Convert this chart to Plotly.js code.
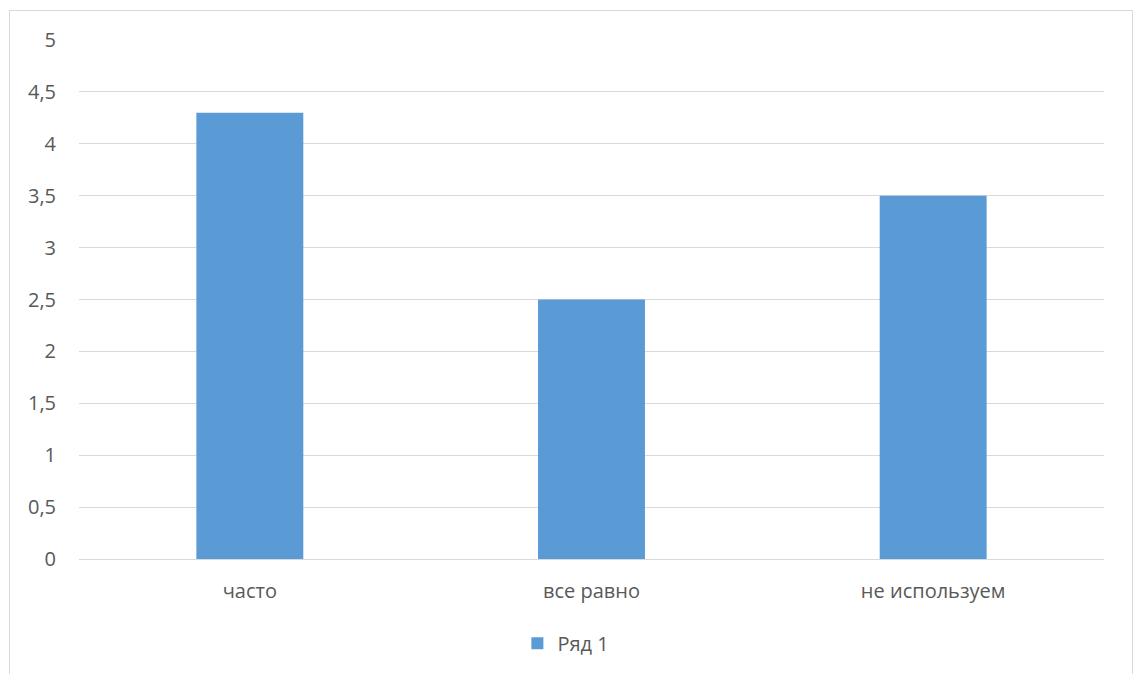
<!DOCTYPE html>
<html>
<head>
<meta charset="utf-8">
<script src="https://cdn.plot.ly/plotly-3.0.1.min.js"></script>
<style>
  html, body { margin: 0; padding: 0; background: #fff; }
  #chart { width: 1134px; height: 674px; position: absolute; left: 0; top: 0; }
  #frame { position: absolute; left: 9px; top: 10px; width: 1122px; height: 700px;
           border: 1px solid #d9d9d9; pointer-events: none; }
</style>
</head>
<body>
<div id="chart"></div>
<div id="frame"></div>
<script>
const categories = ["часто", "все равно", "не используем"];
const values = [4.3, 2.5, 3.5];
const seriesName = "Ряд 1";
const yTicks = [0, 0.5, 1, 1.5, 2, 2.5, 3, 3.5, 4, 4.5, 5];

const font = { family: "Open Sans, Liberation Sans, sans-serif", size: 20, color: "#595959" };

Plotly.newPlot("chart", [{
  type: "bar",
  x: categories,
  y: values,
  name: seriesName,
  marker: { color: "#5b9bd5" },
  showlegend: true,
  hoverinfo: "none"
}], {
  width: 1134, height: 674,
  margin: { l: 79, r: 30, t: 40, b: 114 },
  paper_bgcolor: "#fff",
  plot_bgcolor: "#fff",
  separators: ", ",
  font: font,
  bargap: 0.687,
  xaxis: {
    type: "category",
    showgrid: false,
    zeroline: false,
    showline: false,
    ticks: "",
    ticklabelstandoff: 18,
    tickfont: font
  },
  yaxis: {
    range: [0, 5],
    tickvals: yTicks,
    ticktext: yTicks.map(v => String(v).replace(".", ",")),
    showgrid: true,
    gridcolor: "#d9d9d9",
    gridwidth: 1,
    zeroline: true,
    zerolinecolor: "#d9d9d9",
    zerolinewidth: 1,
    showline: false,
    ticks: "",
    ticklabelstandoff: 22,
    tickfont: font
  },
  legend: {
    orientation: "h",
    x: 0.475, xanchor: "center",
    y: -0.16, yanchor: "middle",
    font: font,
    itemwidth: 30
  }
}, { staticPlot: true });
</script>
</body>
</html>
